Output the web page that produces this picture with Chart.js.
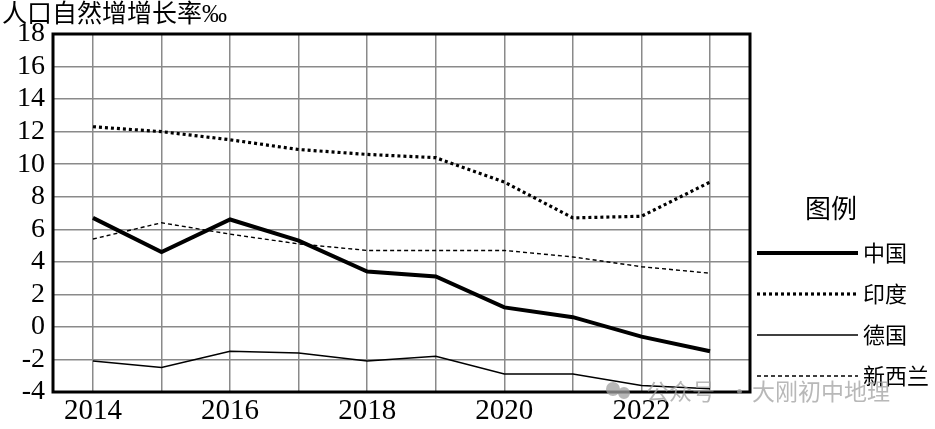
<!DOCTYPE html>
<html>
<head>
<meta charset="utf-8">
<style>
  body { margin: 0; background: #fff; }
  #wrap { width: 935px; height: 429px; }
</style>
<script src="https://cdn.jsdelivr.net/npm/chart.js@4.4.1/dist/chart.umd.min.js"></script>
</head>
<body>
<div id="wrap"><canvas id="chart"></canvas></div>
<script>
// years and natural growth rate (‰)
const years = [2014, 2015, 2016, 2017, 2018, 2019, 2020, 2021, 2022, 2023];
const china = [6.7, 4.6, 6.6, 5.3, 3.4, 3.1, 1.2, 0.6, -0.6, -1.5];
const india = [12.3, 12.0, 11.5, 10.9, 10.6, 10.4, 8.9, 6.7, 6.8, 8.9];
const germany = [-2.1, -2.5, -1.5, -1.6, -2.1, -1.8, -2.9, -2.9, -3.6, -3.8];
const newZealand = [5.4, 6.4, 5.7, 5.1, 4.7, 4.7, 4.7, 4.3, 3.7, 3.3];
const yTicks = [-4, -2, 0, 2, 4, 6, 8, 10, 12, 14, 16, 18];

const titleText = "人口自然增增长率‰";
const legendTitle = "图例";

const SERIF = "'Liberation Serif', 'Noto Sans CJK SC'";
const CJK = "'Noto Sans CJK SC'";

function pts(vals) {
  return years.map((y, i) => ({ x: y, y: vals[i] }));
}

const series = [
  { label: "中国", data: china, width: 4, dash: [] },
  { label: "印度", data: india, width: 3.2, dash: [3, 3] },
  { label: "德国", data: germany, width: 1.5, dash: [] },
  { label: "新西兰", data: newZealand, width: 1.4, dash: [4, 3] }
];

// frame, titles, legend, watermark
const decor = {
  id: "decor",
  beforeDatasetsDraw(chart) {
    const { ctx, chartArea: a } = chart;
    ctx.save();
    ctx.strokeStyle = "#000";
    ctx.lineWidth = 3;
    ctx.strokeRect(a.left, a.top, a.right - a.left, a.bottom - a.top);
    ctx.restore();
  },
  afterDraw(chart) {
    const { ctx } = chart;
    ctx.save();
    ctx.fillStyle = "#000";
    ctx.textBaseline = "middle";

    ctx.font = "25px " + SERIF;
    ctx.textAlign = "left";
    ctx.fillText(titleText, 2, 15);

    ctx.font = "26px " + CJK;
    ctx.textAlign = "center";
    ctx.fillText(legendTitle, 831, 208);

    ctx.font = "22px " + CJK;
    ctx.textAlign = "left";
    series.forEach((s, i) => {
      const y = 253 + i * 41;
      ctx.beginPath();
      ctx.lineWidth = s.width;
      ctx.setLineDash(s.dash);
      ctx.moveTo(757, y);
      ctx.lineTo(858, y);
      ctx.stroke();
      ctx.setLineDash([]);
      ctx.fillText(s.label, 863, y);
    });

    // faint watermark
    ctx.fillStyle = "rgba(160,160,160,0.75)";
    ctx.beginPath();
    ctx.arc(613, 389, 7, 0, Math.PI * 2);
    ctx.arc(624, 393, 6, 0, Math.PI * 2);
    ctx.fill();
    ctx.font = "23px " + CJK;
    ctx.fillText("公众号", 646, 391);
    ctx.fillText("·", 728, 391);
    ctx.fillText("大刚初中地理", 752, 391);
    ctx.restore();
  }
};

new Chart(document.getElementById("chart"), {
  type: "line",
  data: {
    datasets: series.map(s => ({
      label: s.label,
      data: pts(s.data),
      borderColor: "#000",
      borderWidth: s.width,
      borderDash: s.dash,
      borderCapStyle: "butt",
      pointRadius: 0,
      tension: 0,
      fill: false
    }))
  },
  options: {
    responsive: true,
    maintainAspectRatio: false,
    animation: false,
    layout: { padding: { top: 34, right: 185, left: 0, bottom: 0 } },
    plugins: {
      legend: { display: false },
      title: { display: false },
      tooltip: { enabled: false }
    },
    scales: {
      x: {
        type: "linear",
        min: 2013.417,
        max: 2023.583,
        afterBuildTicks(scale) {
          scale.ticks = years.map(v => ({ value: v }));
        },
        afterFit(scale) { scale.height = 37; },
        grid: { color: "#8a8a8a", lineWidth: 1.5, drawTicks: false },
        border: { display: false },
        ticks: {
          padding: 2,
          color: "#000",
          font: { family: SERIF, size: 29 },
          autoSkip: false,
          maxRotation: 0,
          callback: v => (v % 2 === 0 ? String(v) : "")
        }
      },
      y: {
        min: -4,
        max: 18,
        afterBuildTicks(scale) {
          scale.ticks = yTicks.map(v => ({ value: v }));
        },
        afterFit(scale) { scale.width = 53; },
        grid: { color: "#8a8a8a", lineWidth: 1.5, drawTicks: false },
        border: { display: false },
        ticks: {
          padding: 8,
          color: "#000",
          autoSkip: false,
          font: { family: SERIF, size: 28 }
        }
      }
    }
  },
  plugins: [decor]
});
</script>
</body>
</html>
